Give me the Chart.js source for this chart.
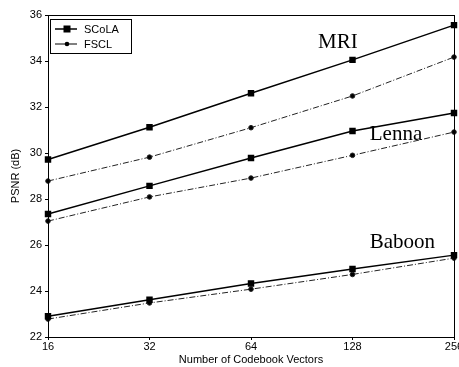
<!DOCTYPE html>
<html lang="en">
<head>
<meta charset="UTF-8">
<script src="https://cdn.jsdelivr.net/npm/chart.js@4/dist/chart.umd.min.js"></script>
<title>PSNR vs codebook size</title>
<style>
  html, body { margin: 0; padding: 0; overflow: hidden; background: #fff; }
  .box { width: 470px; height: 367px; }
</style>
</head>
<body>
<div class="box"><canvas id="psnr" width="470" height="367"></canvas></div>
<script>
  // values (PSNR in dB)
  const codebookSizes = ['16', '32', '64', '128', '256'];
  const mriScola = [29.72, 31.12, 32.6, 34.05, 35.56];
  const mriFscl = [28.78, 29.82, 31.1, 32.48, 34.17];
  const lennaScola = [27.35, 28.57, 29.78, 30.96, 31.74];
  const lennaFscl = [27.04, 28.09, 28.91, 29.9, 30.91];
  const baboonScola = [22.9, 23.62, 24.33, 24.96, 25.56];
  const baboonFscl = [22.78, 23.48, 24.08, 24.72, 25.43];
  const yTicks = [22, 24, 26, 28, 30, 32, 34, 36];
  const methodNames = ['SCoLA', 'FSCL'];
  const imageNames = ['MRI', 'Lenna', 'Baboon'];

  Chart.defaults.font.family = '"Liberation Sans", Arial, sans-serif';
  Chart.defaults.font.size = 11;
  Chart.defaults.color = '#000';

  const scola = {
    borderColor: '#000', backgroundColor: '#000', borderWidth: 1.5,
    pointStyle: 'rect', pointRadius: 3.5, tension: 0, clip: false
  };
  const fscl = {
    borderColor: '#222', backgroundColor: '#000', borderWidth: 1,
    borderDash: [6, 2, 1, 2], pointStyle: 'circle', pointRadius: 2.3, tension: 0, clip: false
  };

  // frame round the plot area
  const frame = {
    id: 'frame',
    afterDraw(chart) {
      const { ctx, chartArea: a } = chart;
      ctx.save();
      ctx.strokeStyle = '#000';
      ctx.lineWidth = 1;
      ctx.strokeRect(a.left + 0.5, a.top + 0.5, a.right - a.left, a.bottom - a.top);
      ctx.restore();
    }
  };

  // the image names written next to the curves
  const curveNames = {
    id: 'curveNames',
    afterDraw(chart) {
      const { ctx } = chart;
      const x = chart.scales.x, y = chart.scales.y;
      const spots = [[2.66, 34.57], [3.17, 30.55], [3.17, 25.85]];
      ctx.save();
      ctx.fillStyle = '#000';
      ctx.font = '21px "Liberation Serif", "Times New Roman", serif';
      ctx.textBaseline = 'alphabetic';
      imageNames.forEach((name, i) => {
        ctx.fillText(name, x.getPixelForValue(spots[i][0]), y.getPixelForValue(spots[i][1]));
      });
      ctx.restore();
    }
  };

  // boxed legend in the top-left corner of the plot
  const boxLegend = {
    id: 'boxLegend',
    afterDraw(chart) {
      const { ctx, chartArea: a } = chart;
      const left = a.left + 2, top = a.top + 4;
      ctx.save();
      ctx.fillStyle = '#fff';
      ctx.fillRect(left, top, 81, 34);
      ctx.strokeStyle = '#000';
      ctx.lineWidth = 1;
      ctx.strokeRect(left + 0.5, top + 0.5, 81, 34);
      [scola, fscl].forEach((st, i) => {
        const yy = top + 10 + i * 15;
        ctx.strokeStyle = '#000';
        ctx.lineWidth = st.borderWidth;
        ctx.beginPath();
        ctx.moveTo(left + 5, yy);
        ctx.lineTo(left + 27, yy);
        ctx.stroke();
        ctx.fillStyle = '#000';
        if (st.pointStyle === 'rect') {
          ctx.fillRect(left + 13.5, yy - 3.5, 7, 7);
        } else {
          ctx.beginPath();
          ctx.arc(left + 17, yy, 2.3, 0, Math.PI * 2);
          ctx.fill();
        }
        ctx.font = '11px "Liberation Sans", Arial, sans-serif';
        ctx.textBaseline = 'middle';
        ctx.fillText(methodNames[i], left + 34, yy + 0.5);
      });
      ctx.restore();
    }
  };

  const ctx = document.getElementById('psnr').getContext('2d');
  new Chart(ctx, {
    type: 'line',
    data: {
      labels: codebookSizes,
      datasets: [
        { label: 'MRI SCoLA', data: mriScola, ...scola },
        { label: 'MRI FSCL', data: mriFscl, ...fscl },
        { label: 'Lenna SCoLA', data: lennaScola, ...scola },
        { label: 'Lenna FSCL', data: lennaFscl, ...fscl },
        { label: 'Baboon SCoLA', data: baboonScola, ...scola },
        { label: 'Baboon FSCL', data: baboonFscl, ...fscl }
      ]
    },
    options: {
      responsive: false,
      animation: false,
      layout: { padding: { top: 15, right: 16, left: 0, bottom: 0 } },
      plugins: { legend: { display: false }, tooltip: { enabled: false } },
      scales: {
        x: {
          type: 'category',
          offset: false,
          grid: { drawOnChartArea: false, tickLength: 3, color: '#000' },
          border: { color: '#000', width: 1 },
          ticks: { padding: 0, maxRotation: 0, autoSkip: false },
          title: { display: true, text: 'Number of Codebook Vectors', padding: { top: 2, bottom: 0 } },
          afterFit(scale) { scale.height = 30; }
        },
        y: {
          min: 22, max: 36,
          afterBuildTicks(scale) { scale.ticks = yTicks.map(v => ({ value: v })); },
          grid: { drawOnChartArea: false, tickLength: 3, color: '#000' },
          border: { color: '#000', width: 1 },
          ticks: { padding: 3 },
          title: { display: true, text: 'PSNR (dB)', padding: { top: 9, bottom: 0 } },
          afterFit(scale) { scale.width = 48; }
        }
      }
    },
    plugins: [frame, curveNames, boxLegend]
  });
</script>
</body>
</html>
